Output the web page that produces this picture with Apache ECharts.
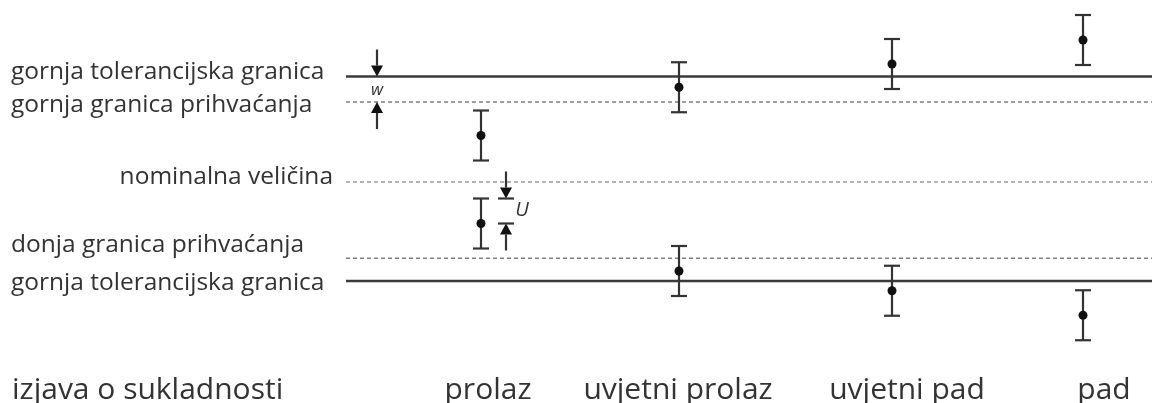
<!DOCTYPE html>
<html><head><meta charset="utf-8">
<script src="https://cdn.jsdelivr.net/npm/echarts@6/dist/echarts.min.js"></script>
<style>html,body{margin:0;padding:0;background:#fff}#c{width:1152px;height:403px}</style>
</head><body><div id="c"></div>
<script>
// ---- data ----
const categories = ['prolaz', 'uvjetni prolaz', 'uvjetni pad', 'pad'];
const categoryPos = [4.81, 6.79, 8.92, 10.83];
const labelPos = [4.88, 6.78, 9.07, 11.04];
const upperResults = [1.86, 3.79, 4.72, 5.68];
const lowerResults = [-1.66, -3.56, -4.35, -5.33];
const uncertaintyU = 1.0;
const limitNames = ['gornja tolerancijska granica', 'gornja granica prihvaćanja', 'nominalna veličina', 'donja granica prihvaćanja', 'gornja tolerancijska granica'];
const limitValues = [4.22, 3.2, 0, -3.05, -3.96];
const limitKinds = ['tol', 'acc', 'nom', 'acc', 'tol'];
const statementTitle = 'izjava o sukladnosti';
const lineFrom = 3.46, lineTo = 11.52;
const wArrowX = 3.77, uArrowX = 5.06;

const FONT = '"Open Sans", "Noto Sans", sans-serif';
const INK = '#333';

const chart = echarts.init(document.getElementById('c'), null, {renderer: 'canvas'});

const barData = [];
categoryPos.forEach((x, i) => {
  barData.push([x, upperResults[i], upperResults[i] - uncertaintyU, upperResults[i] + uncertaintyU]);
  barData.push([x, lowerResults[i], lowerResults[i] - uncertaintyU, lowerResults[i] + uncertaintyU]);
});

function arrow(x, yTip, dir, tick) {
  const shaft = 27, head = 11, hw = 6;
  const children = [
    {type: 'line', shape: {x1: x, y1: yTip - dir * shaft, x2: x, y2: yTip - dir * head}, style: {stroke: INK, lineWidth: 2.2}},
    {type: 'polygon', shape: {points: [[x, yTip], [x - hw, yTip - dir * head], [x + hw, yTip - dir * head]]}, style: {fill: '#111'}}
  ];
  if (tick) children.push({type: 'line', shape: {x1: x - 8, y1: yTip, x2: x + 8, y2: yTip}, style: {stroke: INK, lineWidth: 2.2}});
  return children;
}

const option = {
  animation: false,
  backgroundColor: '#fff',
  grid: {left: 0, right: 0, top: 7, bottom: 0},
  xAxis: {type: 'value', min: 0, max: 11.52, show: false},
  yAxis: {type: 'value', min: -8.84, max: 7, show: false},
  series: [
    {
      type: 'custom',
      data: limitValues.map((v, i) => [i, v]),
      renderItem: (params, api) => {
        const i = api.value(0), v = api.value(1);
        const p1 = api.coord([lineFrom, v]), p2 = api.coord([lineTo, v]);
        const kind = limitKinds[i];
        let style;
        if (kind === 'tol') style = {stroke: '#3a3a3a', lineWidth: 2.6};
        else if (kind === 'acc') style = {stroke: '#808080', lineWidth: 1.5, lineDash: [4, 3]};
        else style = {stroke: '#9a9a9a', lineWidth: 1.3, lineDash: [4, 3]};
        return {type: 'line', shape: {x1: p1[0], y1: p1[1], x2: p2[0], y2: p2[1]}, style};
      }
    },
    {
      type: 'custom',
      data: barData,
      renderItem: (params, api) => {
        const c = api.coord([api.value(0), api.value(1)]);
        const lo = api.coord([api.value(0), api.value(2)]);
        const hi = api.coord([api.value(0), api.value(3)]);
        const cw = 8;
        return {type: 'group', children: [
          {type: 'line', shape: {x1: c[0], y1: lo[1], x2: c[0], y2: hi[1]}, style: {stroke: INK, lineWidth: 2.2}},
          {type: 'line', shape: {x1: c[0] - cw, y1: lo[1], x2: c[0] + cw, y2: lo[1]}, style: {stroke: INK, lineWidth: 2.2}},
          {type: 'line', shape: {x1: c[0] - cw, y1: hi[1], x2: c[0] + cw, y2: hi[1]}, style: {stroke: INK, lineWidth: 2.2}},
          {type: 'circle', shape: {cx: c[0], cy: c[1], r: 4.5}, style: {fill: '#111'}}
        ]};
      }
    },
    {
      type: 'custom',
      data: [[0]],
      renderItem: (params, api) => {
        const wTop = api.coord([wArrowX, limitValues[0]]);
        const wBot = api.coord([wArrowX, limitValues[1]]);
        const uTop = api.coord([uArrowX, lowerResults[0] + uncertaintyU]);
        const uBot = api.coord([uArrowX, lowerResults[0]]);
        return {type: 'group', children: [
          ...arrow(wTop[0], wTop[1], 1, false),
          ...arrow(wBot[0], wBot[1], -1, false),
          {type: 'text', style: {text: 'w', x: wTop[0], y: (wTop[1] + wBot[1]) / 2 + 1, align: 'center', verticalAlign: 'middle', font: 'italic 17px ' + FONT, fill: INK}},
          ...arrow(uTop[0], uTop[1], 1, true),
          ...arrow(uBot[0], uBot[1], -1, true),
          {type: 'text', style: {text: 'U', x: uTop[0] + 16, y: (uTop[1] + uBot[1]) / 2 - 1, align: 'center', verticalAlign: 'middle', font: 'italic 20px ' + FONT, fill: INK}}
        ]};
      }
    }
  ]
};
chart.setOption(option);

// text labels
const leftY = [72, 105, 177, 245, 283];
const graphics = [];
limitNames.forEach((name, i) => {
  const right = i === 2;
  graphics.push({type: 'text', x: right ? 333 : 11, y: leftY[i],
    style: {text: name, font: '24.5px ' + FONT, fill: INK, align: right ? 'right' : 'left', verticalAlign: 'middle'}});
});
graphics.push({type: 'text', x: 12, y: 390, style: {text: statementTitle, font: '30px ' + FONT, fill: INK, verticalAlign: 'middle'}});
categories.forEach((name, i) => {
  const px = chart.convertToPixel({gridIndex: 0}, [labelPos[i], 0])[0];
  graphics.push({type: 'text', x: px, y: 390, style: {text: name, font: '30px ' + FONT, fill: INK, align: 'center', verticalAlign: 'middle'}});
});
chart.setOption({graphic: graphics});
</script></body></html>
